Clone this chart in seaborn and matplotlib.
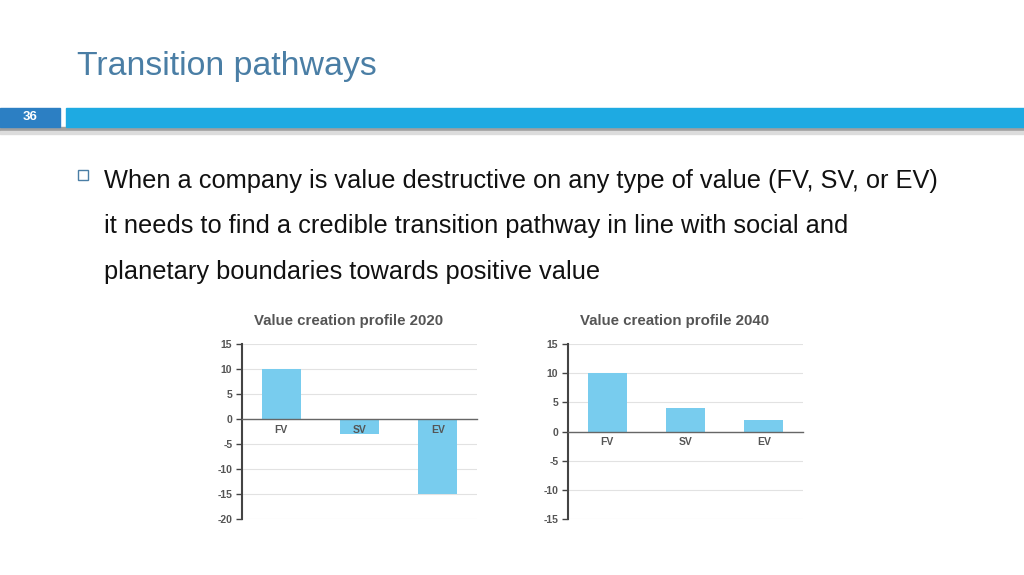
import matplotlib
matplotlib.use("Agg")
import matplotlib.pyplot as plt
from matplotlib.patches import Rectangle
import seaborn as sns
import pandas as pd

sns.set_theme(style="white")
plt.rcParams['font.family'] = ['Liberation Sans', 'DejaVu Sans']

# ---- data ----
categories = ["FV", "SV", "EV"]
values_2020 = [10, -3, -15]
values_2040 = [10, 4, 2]
ticks_2020 = [15, 10, 5, 0, -5, -10, -15, -20]
ticks_2040 = [15, 10, 5, 0, -5, -10, -15]
title_text = "Transition pathways"
slide_number = "36"
bullet_lines = [
    "When a company is value destructive on any type of value (FV, SV, or EV)",
    "it needs to find a credible transition pathway in line with social and",
    "planetary boundaries towards positive value",
]

W, H = 1024, 575
fig = plt.figure(figsize=(W / 100, H / 100), dpi=100)
fig.patch.set_facecolor("white")

def fx(px):
    return px / W

def fy(py):
    return 1 - py / H

# header
fig.text(fx(77), fy(75), title_text, fontsize=24.4, color="#4A7EA5",
         ha="left", va="baseline")
# shadow under the bar
fig.patches.append(Rectangle((0, fy(131)), 1, fy(127) - fy(131),
                             transform=fig.transFigure, color="#a0a0a0", zorder=1))
fig.patches.append(Rectangle((0, fy(134)), 1, fy(131) - fy(134),
                             transform=fig.transFigure, color="#dcdcdc", zorder=1))
fig.patches.append(Rectangle((fx(0), fy(127)), fx(60), fy(108) - fy(127),
                             transform=fig.transFigure, color="#2C7FC3", zorder=2))
fig.patches.append(Rectangle((fx(66), fy(127)), 1 - fx(66), fy(108) - fy(127),
                             transform=fig.transFigure, color="#1EAAE2", zorder=2))
fig.text(fx(30), fy(117), slide_number, fontsize=9.5, fontweight="bold",
         color="white", ha="center", va="center", zorder=3)

# bullet
fig.patches.append(Rectangle((fx(78), fy(180)), fx(10), fy(170) - fy(180),
                             transform=fig.transFigure, facecolor="none",
                             edgecolor="#4A7EA5", linewidth=1.0, zorder=2))
for i, line in enumerate(bullet_lines):
    fig.text(fx(104), fy(188 + 45.5 * i), line, fontsize=18.3, color="#111111",
             ha="left", va="baseline")

bar_color = "#78CCEE"

def draw_chart(ax, vals, ticks, title):
    df = pd.DataFrame({"cat": categories, "val": vals})
    sns.barplot(data=df, x="cat", y="val", ax=ax, color=bar_color,
                width=0.5, saturation=1, edgecolor="none")
    ax.set_xlim(-0.5, 2.5)
    ax.set_ylim(min(ticks), max(ticks))
    ax.set_yticks(ticks)
    ax.set_yticklabels([str(t) for t in ticks])
    ax.set_xlabel("")
    ax.set_ylabel("")
    ax.grid(axis="y", color="#e2e2e2", linewidth=0.8)
    ax.grid(axis="x", visible=False)
    ax.set_axisbelow(True)
    ax.xaxis.set_zorder(3)
    for s in ["top", "right"]:
        ax.spines[s].set_visible(False)
    ax.spines["bottom"].set_position(("data", 0))
    ax.spines["bottom"].set_color("#666666")
    ax.spines["bottom"].set_linewidth(1.0)
    ax.spines["left"].set_color("#444444")
    ax.spines["left"].set_linewidth(1.5)
    ax.tick_params(axis="x", length=0, pad=4, labelsize=7.5, labelcolor="#555555")
    ax.tick_params(axis="y", left=True, length=4, width=1, color="#444444",
                   direction="out", pad=3, labelsize=7.5, labelcolor="#555555")
    for lab in ax.get_yticklabels() + ax.get_xticklabels():
        lab.set_fontweight("bold")
        lab.set_fontfamily(["Liberation Sans", "DejaVu Sans"])
    ax.text(0.453, 1.131, title, transform=ax.transAxes, fontsize=10.8,
            fontweight="bold", color="#555555", ha="center", va="center")
    ax.set_facecolor("white")

ax1 = fig.add_axes([fx(242), fy(519), fx(235), fy(344) - fy(519)])
ax2 = fig.add_axes([fx(568), fy(519), fx(235), fy(344) - fy(519)])
draw_chart(ax1, values_2020, ticks_2020, "Value creation profile 2020")
draw_chart(ax2, values_2040, ticks_2040, "Value creation profile 2040")

fig.savefig("out.png", dpi=100, facecolor="white")
